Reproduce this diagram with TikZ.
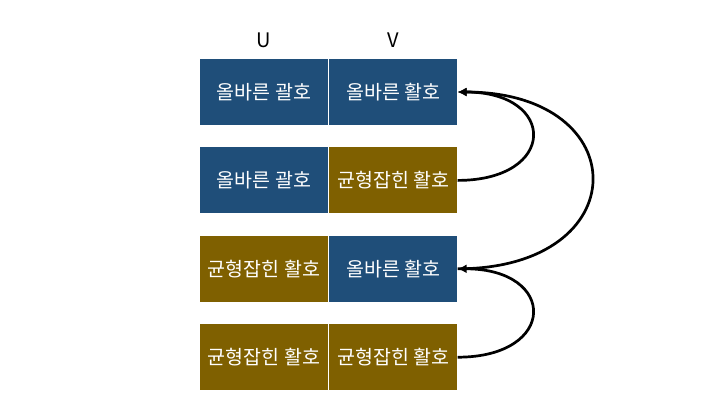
\documentclass[tikz,border=0pt]{standalone}
\usepackage{fontspec}
\setmainfont{Noto Sans CJK KR}
\usepackage{tikz}
\usetikzlibrary{positioning,arrows.meta}
\definecolor{goodblue}{HTML}{1F4E79}
\definecolor{balgold}{HTML}{7F6000}

\begin{document}
\begin{tikzpicture}[x=1pt,y=1pt,>={Latex[length=9pt,width=9pt]},node distance=22pt and 1pt,
      cell/.style={minimum width=128pt,minimum height=66pt,inner sep=0pt,text=white,font=\fontsize{19.5}{21}\selectfont},
      good node/.style={cell,fill=goodblue},
      bal node/.style={cell,fill=balgold},
      head node/.style={inner sep=0pt,font=\fontsize{20}{22}\selectfont}]

      \useasboundingbox (0,0) rectangle (720,-405);

      \node[good node] (U1) at (264,-92) {올바른 괄호};
      \node[good node] (V1) [right=of U1] {올바른 활호};
      \node[good node] (U2) [below=of U1] {올바른 괄호};
      \node[bal node] (V2) [right=of U2] {균형잡힌 활호};
      \node[bal node] (U3) [below=of U2] {균형잡힌 활호};
      \node[good node] (V3) [right=of U3] {올바른 활호};
      \node[bal node] (U4) [below=of U3] {균형잡힌 활호};
      \node[bal node] (V4) [right=of U4] {균형잡힌 활호};

      \node[head node] (U) [above=11pt of U1] {U};
      \node[head node] (V) [above=11pt of V1] {V};

      \path[->,line width=2.7pt]
        (V2.east) edge [out=0, in=0, looseness=2.9] (V1.east)
        (V3.east) edge [out=0, in=0, looseness=2.6] (V1.east)
        (V4.east) edge [out=0, in=0, looseness=2.9] (V3.east);
    \end{tikzpicture}
\end{document}
